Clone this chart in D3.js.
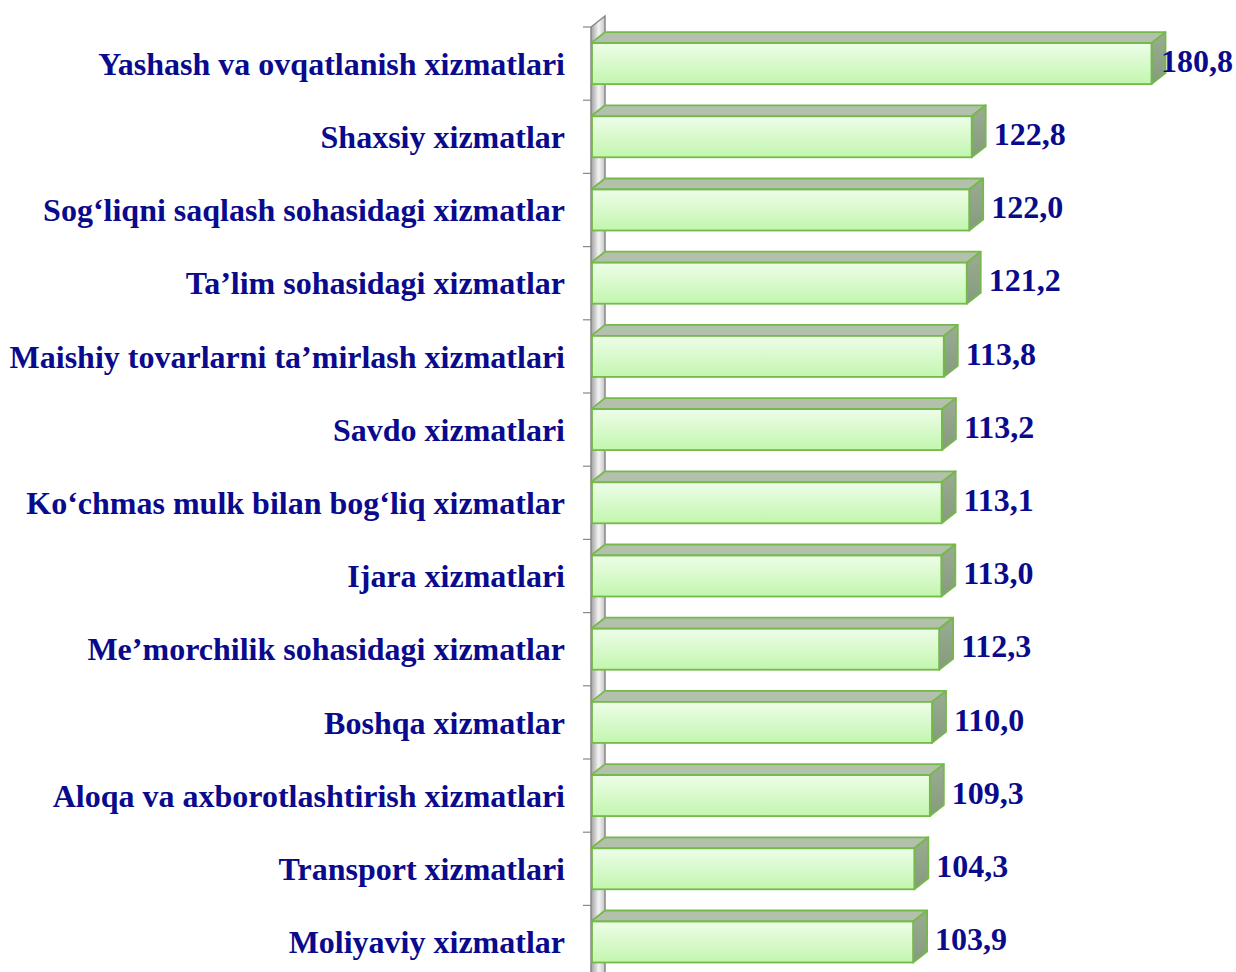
<!DOCTYPE html>
<html>
<head>
<meta charset="utf-8">
<script src="https://cdn.jsdelivr.net/npm/d3@7"></script>
<style>
  html, body { margin: 0; padding: 0; background: #fff; }
  #chart { width: 1236px; height: 972px; overflow: hidden; }
  text { font-family: "Times New Roman", "Liberation Serif", serif; font-weight: bold; }
</style>
</head>
<body>
<div id="chart"></div>
<script>
// xizmat turlari (yuqoridan pastga)
const categories = [
    "Yashash va ovqatlanish xizmatlari",
    "Shaxsiy xizmatlar",
    "Sog\u2018liqni saqlash sohasidagi xizmatlar",
    "Ta\u2019lim sohasidagi xizmatlar",
    "Maishiy tovarlarni ta\u2019mirlash xizmatlari",
    "Savdo xizmatlari",
    "Ko\u2018chmas mulk bilan bog\u2018liq xizmatlar",
    "Ijara xizmatlari",
    "Me\u2019morchilik sohasidagi xizmatlar",
    "Boshqa xizmatlar",
    "Aloqa va axborotlashtirish xizmatlari",
    "Transport xizmatlari",
    "Moliyaviy xizmatlar"
];
const values = [180.8, 122.8, 122.0, 121.2, 113.8, 113.2, 113.1, 113.0, 112.3, 110.0, 109.3, 104.3, 103.9];
const xDomain = [0, 200];

const width = 1236;
const height = 972;
const depth = { dx: 14, dy: 11 };   // 3D chuqurlik
const textColor = '#0a0a8c';
const fontSize = '32px';

const svg = d3.select('#chart').append('svg')
    .attr('width', width)
    .attr('height', height)
    .style('display', 'block');

const defs = svg.append('defs');

// old yuz gradienti
const gFront = defs.append('linearGradient')
    .attr('id', 'front').attr('x1', 0).attr('y1', 0).attr('x2', 0).attr('y2', 1);
gFront.append('stop').attr('offset', '0%').attr('stop-color', '#eefde9');
gFront.append('stop').attr('offset', '100%').attr('stop-color', '#c2f6ae');

const gSide = defs.append('linearGradient')
    .attr('id', 'side').attr('x1', 0).attr('y1', 0).attr('x2', 0).attr('y2', 1);
gSide.append('stop').attr('offset', '0%').attr('stop-color', '#9aad92');
gSide.append('stop').attr('offset', '100%').attr('stop-color', '#869a7e');

const gWall = defs.append('linearGradient')
    .attr('id', 'wall').attr('x1', 0).attr('y1', 0).attr('x2', 1).attr('y2', 0);
gWall.append('stop').attr('offset', '0%').attr('stop-color', '#a0a0a0');
gWall.append('stop').attr('offset', '55%').attr('stop-color', '#f4f4f4');
gWall.append('stop').attr('offset', '100%').attr('stop-color', '#c4c4c4');

// shkalalar
const x = d3.scaleLinear()
    .domain(xDomain)
    .range([591, 591 + 200 * 3.1]);

const y = d3.scaleBand()
    .domain(categories)
    .range([27, 27 + categories.length * 73.2])
    .paddingInner(0.44)
    .paddingOuter(0.22);

const bw = y.bandwidth();
const x0 = x(0);

// chap devor
const wallTop = y.range()[0];
const wallBottom = height + 20;
svg.append('path')
    .attr('d', `M${x0},${wallBottom} L${x0},${wallTop} L${x0 + depth.dx},${wallTop - depth.dy} L${x0 + depth.dx},${wallBottom} Z`)
    .attr('fill', 'url(#wall)')
    .attr('stroke', '#888')
    .attr('stroke-width', 1.5);

// o'q chiziqchalari (kategoriyalar orasida)
const tickYs = categories.map(c => y(c) - y.step() * y.paddingInner() / 2)
    .concat([y(categories[categories.length - 1]) + bw + y.step() * y.paddingInner() / 2]);
svg.append('g')
    .selectAll('line')
    .data(tickYs)
    .join('line')
    .attr('x1', x0 - 8)
    .attr('x2', x0)
    .attr('y1', d => d)
    .attr('y2', d => d)
    .attr('stroke', '#888')
    .attr('stroke-width', 1.2);

// ustunlar
const data = categories.map((c, i) => ({ name: c, value: values[i] }));
const bars = svg.append('g')
    .selectAll('g.bar')
    .data(data)
    .join('g')
    .attr('class', 'bar');

const stroke = '#74b94a';

bars.append('path')   // yuqori yuz
    .attr('d', d => {
        const y0 = y(d.name), x1 = x(d.value);
        return `M${x0},${y0} L${x0 + depth.dx},${y0 - depth.dy} L${x1 + depth.dx},${y0 - depth.dy} L${x1},${y0} Z`;
    })
    .attr('fill', '#b3c0ac')
    .attr('stroke', stroke)
    .attr('stroke-width', 1.8)
    .attr('stroke-linejoin', 'round');

bars.append('path')   // yon yuz
    .attr('d', d => {
        const y0 = y(d.name), y1 = y0 + bw, x1 = x(d.value);
        return `M${x1},${y0} L${x1 + depth.dx},${y0 - depth.dy} L${x1 + depth.dx},${y1 - depth.dy} L${x1},${y1} Z`;
    })
    .attr('fill', 'url(#side)')
    .attr('stroke', stroke)
    .attr('stroke-width', 1.8)
    .attr('stroke-linejoin', 'round');

bars.append('rect')   // old yuz
    .attr('x', x0 + 1)
    .attr('y', d => y(d.name))
    .attr('width', d => x(d.value) - x0 - 1)
    .attr('height', bw)
    .attr('fill', 'url(#front)')
    .attr('stroke', stroke)
    .attr('stroke-width', 1.8);

// kategoriya nomlari
svg.append('g')
    .selectAll('text')
    .data(categories)
    .join('text')
    .attr('x', 565)
    .attr('y', d => y(d) + bw / 2)
    .attr('dy', '0.35em')
    .attr('text-anchor', 'end')
    .attr('fill', textColor)
    .style('font-size', fontSize)
    .text(d => d);

// qiymatlar (vergul bilan)
const locale = d3.formatLocale({ decimal: ',', thousands: ' ', grouping: [3], currency: ['', ''] });
const fmt = locale.format('.1f');

svg.append('g')
    .selectAll('text')
    .data(data)
    .join('text')
    .attr('y', d => y(d.name) + bw / 2 - 3)
    .attr('dy', '0.35em')
    .attr('fill', textColor)
    .style('font-size', fontSize)
    .text(d => fmt(d.value))
    .attr('x', function (d) {
        const w = this.getComputedTextLength();
        return Math.min(x(d.value) + depth.dx + 8, width - w - 3);
    });
</script>
</body>
</html>
